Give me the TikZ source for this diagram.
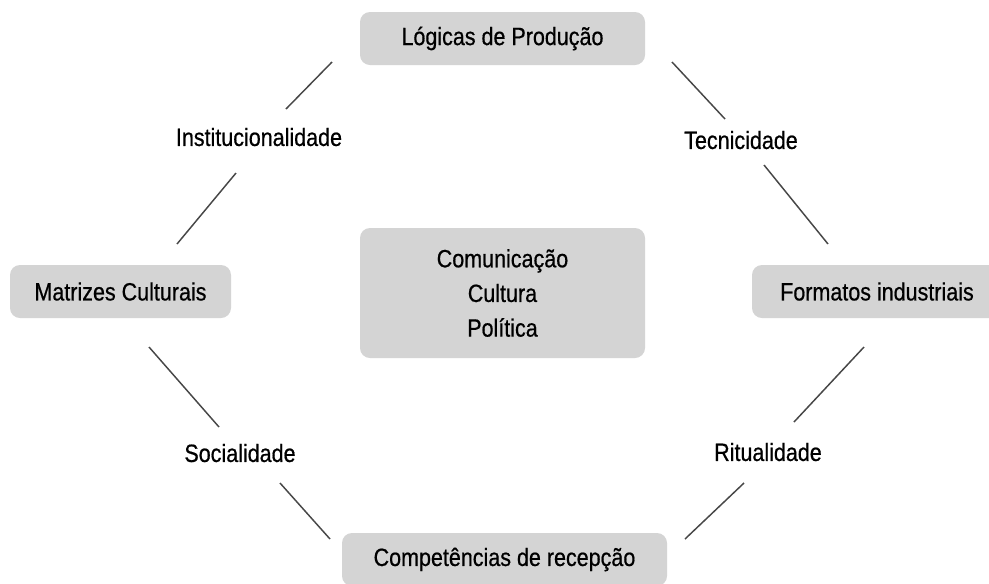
\documentclass[tikz,border=0pt]{standalone}
\usepackage{fontspec}
\setmainfont{Liberation Sans}[FakeStretch=0.86, FakeBold=0.6]
\usepackage{tikz}

\begin{document}
\begin{tikzpicture}[x=0.75pt, y=-0.75pt,
    caixa/.style={fill=black!17, rounded corners=7.5pt, minimum height=39.75pt, inner sep=0pt},
    rotulo/.style={inner sep=0pt},
    liga/.style={draw=black!72, line width=1.1pt}]

        \clip (0, 0) rectangle (989, 583);
        \fill[white] (0, 0) rectangle (989, 583);

        \begin{scope}[font=\fontsize{18.75}{26}\selectfont]
            \node[caixa, minimum width=213.75pt] (producao) at (502.5, 38.5) {Lógicas de Produção};
            \node[caixa, minimum width=165.75pt] (matrizes) at (120.5, 291.5) {Matrizes Culturais};
            \node[caixa, minimum width=187.5pt] (formatos) at (877, 291.5) {Formatos industriais};
            \node[caixa, minimum width=243.75pt] (recepcao) at (504.5, 559.5) {Competências de recepção};
            \node[caixa, minimum width=213.75pt, minimum height=97.5pt, align=center] (centro) at (502.5, 293) {Comunicação\\Cultura\\Política};

            \node[rotulo] (institucionalidade) at (259, 137) {Institucionalidade};
            \node[rotulo] (tecnicidade) at (741, 140) {Tecnicidade};
            \node[rotulo] (socialidade) at (240, 453) {Socialidade};
            \node[rotulo] (ritualidade) at (768, 452) {Ritualidade};
        \end{scope}

        % pontas dos tracos
        \coordinate (inst-a) at (332, 62);   \coordinate (inst-b) at (286, 109);
        \coordinate (inst-c) at (236, 173);  \coordinate (inst-d) at (177, 244);
        \coordinate (tec-a) at (672, 62);    \coordinate (tec-b) at (725, 119);
        \coordinate (tec-c) at (764, 165);   \coordinate (tec-d) at (828, 244);
        \coordinate (soc-a) at (149, 347);   \coordinate (soc-b) at (219, 427);
        \coordinate (soc-c) at (280, 483);   \coordinate (soc-d) at (330, 539);
        \coordinate (rit-a) at (864, 347);   \coordinate (rit-b) at (794, 422);
        \coordinate (rit-c) at (744, 483);   \coordinate (rit-d) at (685, 539);

        \draw[liga] (inst-a) -- (inst-b);
        \draw[liga] (inst-c) -- (inst-d);
        \draw[liga] (tec-a) -- (tec-b);
        \draw[liga] (tec-c) -- (tec-d);
        \draw[liga] (soc-a) -- (soc-b);
        \draw[liga] (soc-c) -- (soc-d);
        \draw[liga] (rit-a) -- (rit-b);
        \draw[liga] (rit-c) -- (rit-d);
    \end{tikzpicture}
\end{document}
